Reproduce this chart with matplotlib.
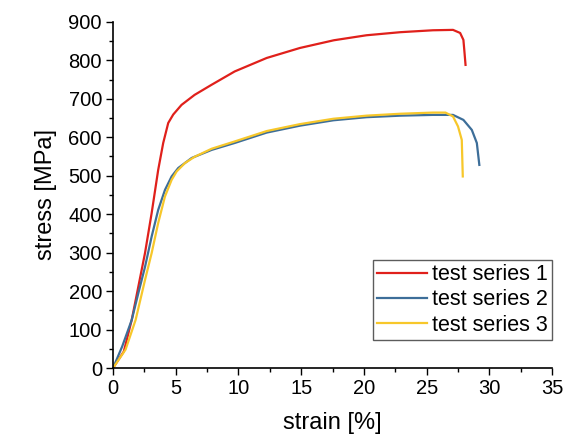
import matplotlib
matplotlib.use("Agg")
import matplotlib.pyplot as plt
from matplotlib.ticker import MultipleLocator

plt.rcParams['font.family'] = ['Liberation Sans', 'DejaVu Sans']

# test series 1
strain_1 = [0.0, 0.86, 1.49, 2.02, 2.55, 3.08, 3.6, 4.0, 4.4, 4.8, 5.46,
            6.5, 7.84, 9.7, 12.25, 14.9, 17.6, 20.2, 22.9, 25.5, 27.1,
            27.67, 27.93, 28.0, 28.1]
stress_1 = [0, 43, 125, 212, 299, 403, 515, 585, 637, 659, 684,
            710, 736, 771, 806, 832, 852, 865, 873, 878, 879,
            871, 853, 827, 788]

# test series 2
strain_2 = [0.0, 0.73, 1.49, 2.02, 2.55, 3.08, 3.6, 4.14, 4.67, 5.2, 6.27,
            7.86, 9.7, 12.25, 14.9, 17.57, 20.2, 22.9, 25.5, 27.1, 27.93,
            28.6, 29.0, 29.2]
stress_2 = [0, 56, 125, 195, 263, 342, 411, 463, 498, 520, 546,
            567, 585, 612, 630, 644, 652, 656, 658, 658, 645,
            619, 585, 528]

# test series 3
strain_3 = [0.0, 1.0, 1.8, 2.55, 3.08, 3.6, 4.14, 4.67, 5.07, 5.74, 6.5,
            7.86, 9.7, 12.25, 14.9, 17.57, 20.2, 22.9, 25.5, 26.5, 27.1,
            27.5, 27.8, 27.88]
stress_3 = [0, 48, 125, 229, 299, 377, 446, 489, 511, 533, 549,
            570, 589, 616, 634, 648, 656, 661, 664, 664, 654,
            628, 593, 498]

labels = ["test series 1", "test series 2", "test series 3"]
colors = ["#e0201b", "#3d6e99", "#f7c72a"]

fig = plt.figure(figsize=(5.68, 4.45), dpi=100)
ax = fig.add_axes([0.199, 0.173, 0.773, 0.778])

ax.plot(strain_1, stress_1, color=colors[0], lw=1.6, label=labels[0])
ax.plot(strain_2, stress_2, color=colors[1], lw=1.6, label=labels[1])
ax.plot(strain_3, stress_3, color=colors[2], lw=1.6, label=labels[2])

ax.set_xlim(0, 35)
ax.set_ylim(0, 900)
ax.xaxis.set_major_locator(MultipleLocator(5))
ax.xaxis.set_minor_locator(MultipleLocator(2.5))
ax.yaxis.set_major_locator(MultipleLocator(100))
ax.yaxis.set_minor_locator(MultipleLocator(50))
ax.tick_params(which='major', direction='out', length=5, width=1,
               labelsize=14.5, pad=3)
ax.tick_params(which='minor', direction='out', length=3, width=1)

for side in ['top', 'right']:
    ax.spines[side].set_visible(False)
for side in ['left', 'bottom']:
    ax.spines[side].set_linewidth(1.2)

ax.set_xlabel("strain [%]", fontsize=17, labelpad=10)
ax.set_ylabel("stress [MPa]", fontsize=17, labelpad=8)

leg = ax.legend(loc='lower right', bbox_to_anchor=(1.0, 0.081),
                fontsize=15.5, frameon=True, fancybox=False,
                handlelength=2.3, handletextpad=0.25, borderpad=0.2,
                labelspacing=0.2, borderaxespad=0)
leg.get_frame().set_edgecolor('#333333')
leg.get_frame().set_linewidth(1.0)

fig.savefig("out.png", dpi=100)
